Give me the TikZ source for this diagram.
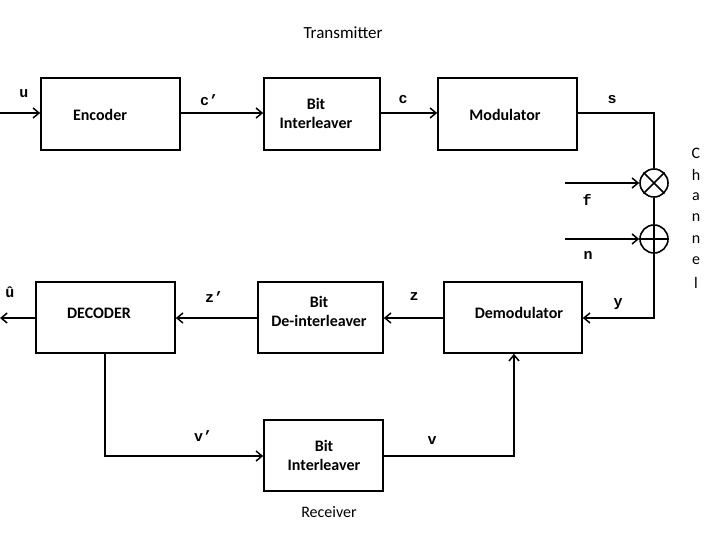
\documentclass[tikz,border=0pt]{standalone}
\usepackage{fontspec}
\setmainfont{Carlito}
\newfontfamily\monof{Liberation Mono}
\usetikzlibrary{arrows.meta}
\begin{document}
\begin{tikzpicture}[x=1pt,y=-1pt,
  blk/.style={draw,line width=1.6pt,inner sep=0pt},
  btxt/.style={font=\fontsize{16}{19}\selectfont\bfseries,align=center,inner sep=0pt},
  lab/.style={font=\monof\fontsize{15}{17}\selectfont\bfseries,inner sep=0pt},
  plain/.style={font=\fontsize{16}{19}\selectfont,inner sep=0pt},
  wire/.style={line width=1.6pt},
  arr/.style={wire,-{Straight Barb[length=6pt,width=10pt,line width=1.5pt]}},
  junc/.style={draw,circle,line width=1.6pt,minimum size=28pt,inner sep=0pt}]
\useasboundingbox (0,0) rectangle (720,540);
% boxes
\node[blk,minimum width=139pt,minimum height=72pt] (enc) at (110.5,114) {};
\node[btxt] at (100,115) {Encoder};
\node[blk,minimum width=116pt,minimum height=72pt] (bi1) at (322,114) {};
\node[btxt] at (316,113) {Bit\\Interleaver};
\node[blk,minimum width=139pt,minimum height=72pt] (mod) at (507.5,114) {};
\node[btxt] at (505,115) {Modulator};
\node[blk,minimum width=138pt,minimum height=71pt] (dem) at (513,317.5) {};
\node[btxt] at (519,313) {Demodulator};
\node[blk,minimum width=125pt,minimum height=71pt] (dei) at (320.5,317.5) {};
\node[btxt] at (319,311) {Bit\\De-interleaver};
\node[blk,minimum width=139pt,minimum height=71pt] (dec) at (105.5,317.5) {};
\node[btxt] at (99,313) {DECODER};
\node[blk,minimum width=119pt,minimum height=71pt] (bi2) at (323.5,455.5) {};
\node[btxt] at (324,455) {Bit\\Interleaver};
% channel junctions
\node[junc] (mul) at (654,183) {};
\draw[wire] (mul.north west) -- (mul.south east) (mul.north east) -- (mul.south west);
\node[junc] (add) at (654,239) {};
\draw[wire] (add.north) -- (add.south) (add.west) -- (add.east);
% coordinates
\coordinate (uin) at (0,113);
\coordinate (uout) at (0,318);
\coordinate (fin) at (565,183);
\coordinate (nin) at (565,239);
\coordinate (c1) at (654,113);
\coordinate (c2) at (654,318);
\coordinate (c3) at (105,456);
\coordinate (c4) at (514,456);
% connectors
\draw[arr] (uin) -- (enc.west |- uin);
\draw[arr] (enc.east |- uin) -- (bi1.west |- uin);
\draw[arr] (bi1.east |- uin) -- (mod.west |- uin);
\draw[wire] (mod.east |- c1) -- (c1) -- (mul.north);
\draw[arr] (fin) -- (mul.west);
\draw[arr] (nin) -- (add.west);
\draw[wire] (mul.south) -- (add.north);
\draw[arr] (add.south) -- (c2) -- (dem.east |- c2);
\draw[arr] (dem.west |- c2) -- (dei.east |- c2);
\draw[arr] (dei.west |- c2) -- (dec.east |- c2);
\draw[arr] (dec.west |- uout) -- (uout);
\draw[arr] (dec.south -| c3) -- (c3) -- (bi2.west |- c3);
\draw[arr] (bi2.east |- c4) -- (c4) -- (dem.south -| c4);
% labels
\node[lab] (lu) at (24,94) {u};
\node[lab] (lc1) at (209,100) {c’};
\node[lab] (lc) at (403,100) {c};
\node[lab] (ls) at (612,100) {s};
\node[lab] (lf) at (587,200) {f};
\node[lab] (ln) at (588,255) {n};
\node[lab] (ly) at (618,304) {y};
\node[lab] (lz) at (414,297) {z};
\node[lab] (lz1) at (214,297) {z’};
\node[lab] (luh) at (10,292) {û};
\node[lab] (lv1) at (203,436) {v’};
\node[lab] (lv) at (432,441) {v};
\node[plain,font=\fontsize{17}{20}\selectfont] (tx) at (343,33) {Transmitter};
\node[plain] (rx) at (329,512) {Receiver};
\foreach \ch [count=\i from 0] in {C,h,a,n,n,e,l}
  \node[plain] at (696,153+21.6*\i) {\ch};
\end{tikzpicture}
\end{document}
